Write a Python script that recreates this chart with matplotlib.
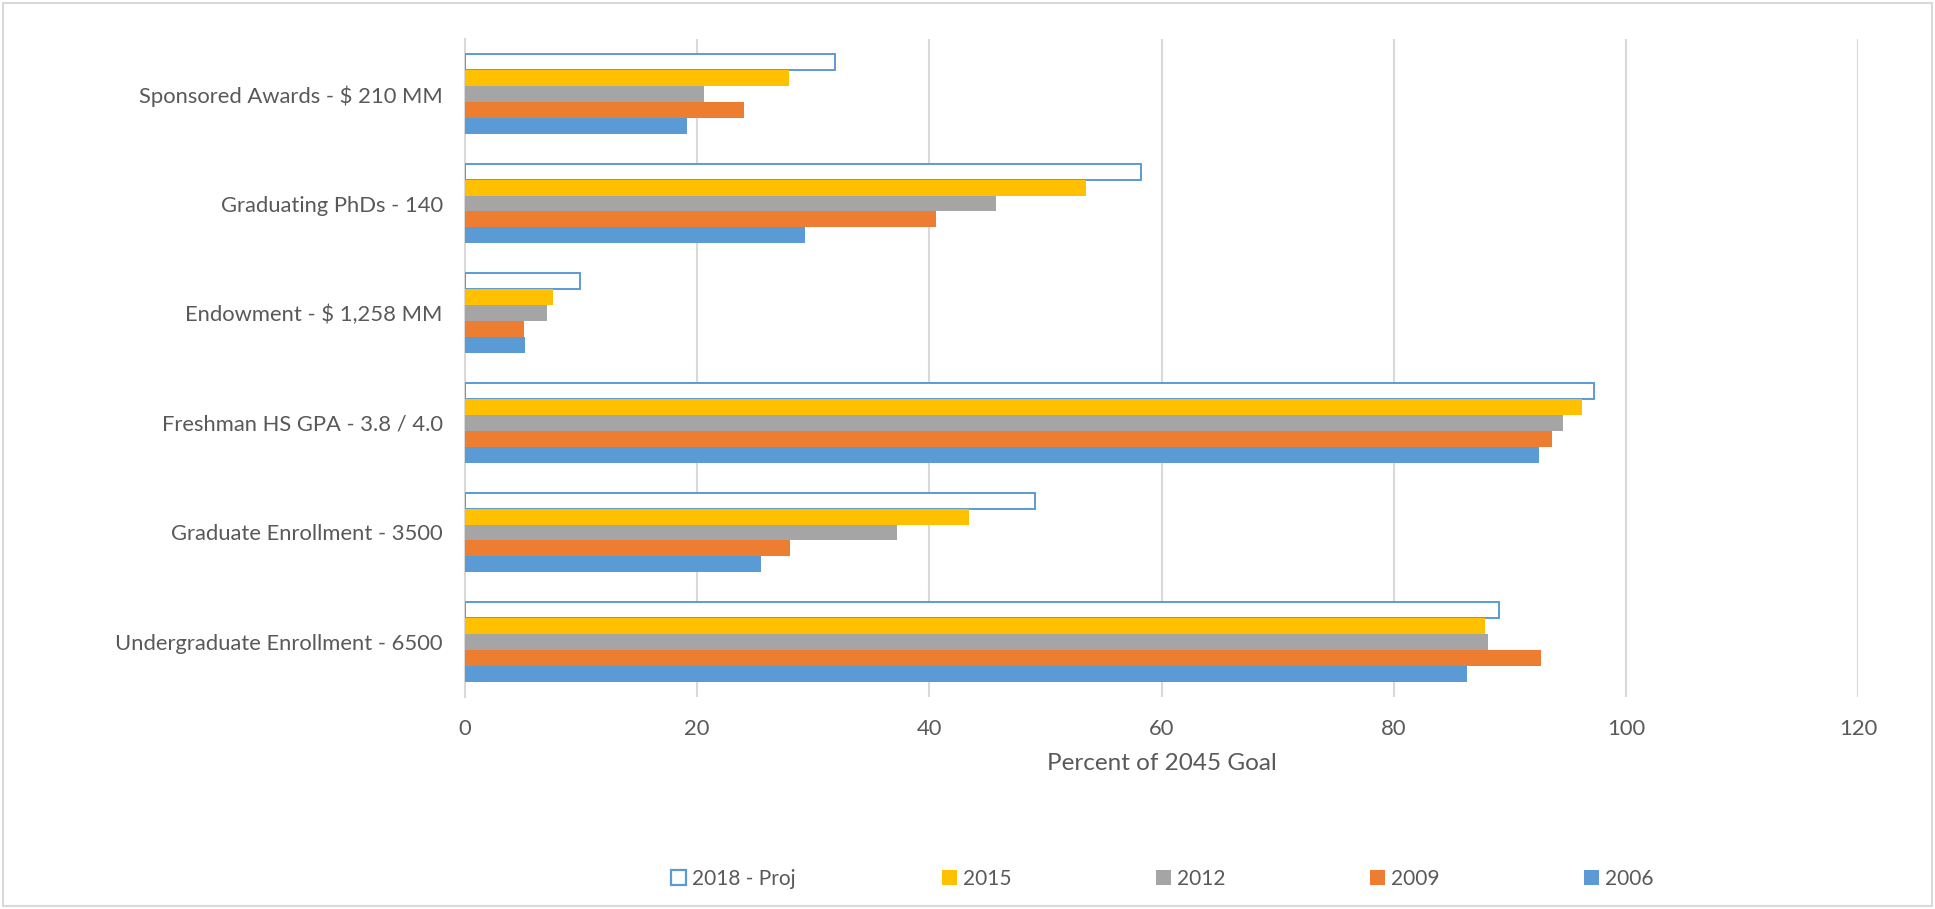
import matplotlib
matplotlib.use("Agg")
import matplotlib.pyplot as plt
from matplotlib.patches import Rectangle
import numpy as np

categories = ["Sponsored Awards - $ 210 MM", "Graduating PhDs - 140", "Endowment - $ 1,258 MM",
              "Freshman HS GPA - 3.8 / 4.0", "Graduate Enrollment - 3500", "Undergraduate Enrollment - 6500"]
series_names = ["2018 - Proj", "2015", "2012", "2009", "2006"]
v2018 = [31.9, 58.2, 9.9, 97.3, 49.1, 89.1]
v2015 = [27.9, 53.5, 7.6, 96.2, 43.4, 87.9]
v2012 = [20.6, 45.7, 7.1, 94.6, 37.2, 88.1]
v2009 = [24.0, 40.6, 5.1, 93.6, 28.0, 92.7]
v2006 = [19.1, 29.3, 5.2, 92.5, 25.5, 86.3]
xticks = [0, 20, 40, 60, 80, 100, 120]

values = [v2018, v2015, v2012, v2009, v2006]
faces = ["white", "#FFC000", "#A5A5A5", "#ED7D31", "#5B9BD5"]
edges = ["#5B9BD5", "none", "none", "none", "none"]

plt.rcParams["font.family"] = ["Lato", "DejaVu Sans"]
txt = "#595959"
grid = "#D9D9D9"

fig = plt.figure(figsize=(19.35, 9.09), dpi=100)
ax = fig.add_axes([465/1935, 1-697/909, (1858-465)/1935, (697-39)/909])

n = len(categories)
ypos = np.arange(n)[::-1]  # first category on top
bh = 0.1455
handles = []
for i, (vals, fc, ec) in enumerate(zip(values, faces, edges)):
    offset = (2 - i) * bh
    lw = 1.4 if ec != "none" else 0
    ax.barh(ypos + offset, vals, height=bh, color=fc, edgecolor=ec,
            linewidth=lw, zorder=3, label=series_names[i])
    handles.append(Rectangle((0, 0), 1, 1, facecolor=fc, edgecolor=ec, linewidth=1.6 if lw else 0))

ax.set_xlim(0, 120)
ax.set_ylim(-0.5, n - 0.5)
ax.set_xticks(xticks)
ax.set_xticklabels([str(t) for t in xticks])
ax.set_yticks(ypos)
ax.set_yticklabels(categories)
ax.tick_params(axis="both", length=0, colors=txt, labelsize=15.8)
ax.tick_params(axis="y", pad=16)
ax.tick_params(axis="x", pad=16)
ax.grid(axis="x", color=grid, linewidth=1.5, zorder=0)
for s in ["top", "right", "bottom"]:
    ax.spines[s].set_visible(False)
ax.spines["left"].set_color(grid)
ax.spines["left"].set_linewidth(1.5)
ax.set_xlabel("Percent of 2045 Goal", fontsize=17.5, color=txt, labelpad=10)

# legend entries, evenly laid out like the original
leg_x = [671, 942, 1156, 1370, 1584]
for h, name, x in zip(handles, series_names, leg_x):
    fig.legend(handles=[h], labels=[name], loc="center left",
               bbox_to_anchor=(x/1935, 1-879/909), frameon=False, fontsize=15,
               handlelength=0.7, handleheight=0.7, handletextpad=0.3,
               borderpad=0, borderaxespad=0, labelcolor=txt)

fig.patches.append(Rectangle((3/1935, 3/909), 1-6/1935, 1-6/909, transform=fig.transFigure,
                             fill=False, edgecolor=grid, linewidth=1.5))

fig.savefig("out.png", dpi=100, facecolor="white")
